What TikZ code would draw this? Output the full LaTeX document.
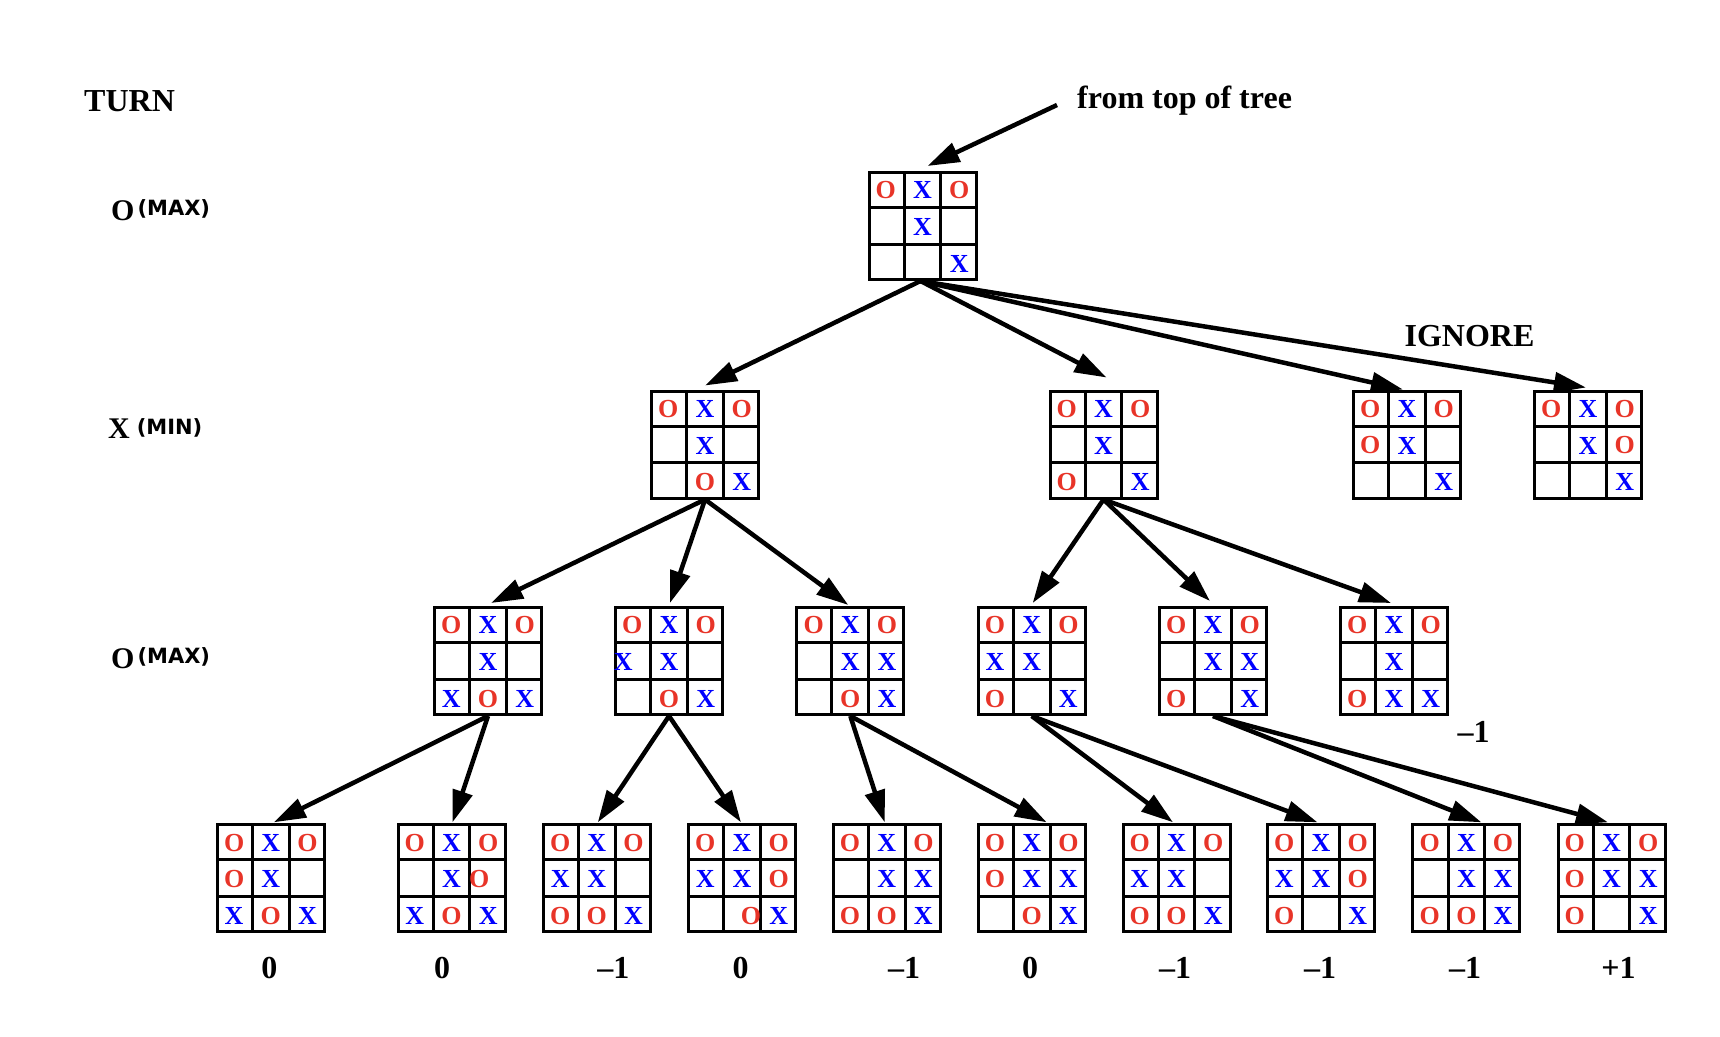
\documentclass[tikz,border=0pt]{standalone}
\usepackage{fontspec}
\setmainfont{Liberation Serif}
\newfontfamily\sansb{DejaVu Sans}
\usetikzlibrary{arrows.meta}
\definecolor{ored}{RGB}{232,52,40}
\definecolor{xblue}{RGB}{0,0,255}
\tikzset{
  board/.style={draw, line width=3pt, minimum size=107pt, inner sep=0pt},
  gridline/.style={line width=3pt},
  move/.style={line width=4.5pt, -{Triangle[length=32pt,width=20pt]}},
  lbl/.style={font=\fontsize{32}{32}\selectfont\bfseries, inner sep=0pt},
  rowlbl/.style={inner sep=0pt, anchor=base west},
  cellfont/.style={inner sep=0pt, font=\fontsize{26}{26}\selectfont\bfseries},
  cellO/.style={cellfont, text=ored, node contents={O}},
  cellX/.style={cellfont, text=xblue, node contents={X}},
  cellQ/.style={cellO, xshift=-9pt},
  cellR/.style={cellO, xshift=9pt},
  cellY/.style={cellX, xshift=-9pt},
}
\newcommand{\tttboard}[4]{%
  \node[board] (#1) at (#2,#3) {};
  \draw[gridline] (#2-18.333,#3-53.5) -- (#2-18.333,#3+53.5)
                  (#2+18.333,#3-53.5) -- (#2+18.333,#3+53.5)
                  (#2-53.5,#3-18.333) -- (#2+53.5,#3-18.333)
                  (#2-53.5,#3+18.333) -- (#2+53.5,#3+18.333);
  \foreach \v [count=\i from 0] in {#4} {%
    \pgfmathtruncatemacro\cc{mod(\i,3)}%
    \pgfmathtruncatemacro\rr{div(\i,3)}%
    \if-\v\else
      \node[name=#1-\i, at={(#2+\cc*36.667-36.667, #3+\rr*36.667-36.667+1)}, cell\v];
    \fi
  }%
}
\begin{document}
\begin{tikzpicture}[x=1pt,y=-1pt]
\path[fill=white] (0,0) rectangle (1720,1036);
\useasboundingbox (0,0) rectangle (1720,1036);

% row labels
\node[lbl, anchor=base west] (turn) at (84,111.5) {TURN};
\node[rowlbl] (row1) at (111,220) {{\fontsize{30}{30}\selectfont\bfseries O}\hspace{3pt}\raisebox{4.5pt}{\sansb\bfseries\fontsize{21}{21}\selectfont (MAX)}};
\node[rowlbl] (row2) at (108,438) {{\fontsize{30}{30}\selectfont\bfseries X}\hspace{7pt}\raisebox{4pt}{\sansb\bfseries\fontsize{21}{21}\selectfont (MIN)}};
\node[rowlbl] (row3) at (111,668) {{\fontsize{30}{30}\selectfont\bfseries O}\hspace{3pt}\raisebox{4.5pt}{\sansb\bfseries\fontsize{21}{21}\selectfont (MAX)}};

% boards
\tttboard{b0}{922.5}{226}{O,X,O,-,X,-,-,-,X}
\tttboard{b11}{705}{444.5}{O,X,O,-,X,-,-,O,X}
\tttboard{b12}{1103.5}{444.5}{O,X,O,-,X,-,O,-,X}
\tttboard{b13}{1407}{444.5}{O,X,O,O,X,-,-,-,X}
\tttboard{b14}{1588}{444.5}{O,X,O,-,X,O,-,-,X}
\tttboard{b21}{488}{661}{O,X,O,-,X,-,X,O,X}
\tttboard{b22}{669}{661}{O,X,O,Y,X,-,-,O,X}
\tttboard{b23}{850.3}{661}{O,X,O,-,X,X,-,O,X}
\tttboard{b24}{1031.7}{661}{O,X,O,X,X,-,O,-,X}
\tttboard{b25}{1213}{661}{O,X,O,-,X,X,O,-,X}
\tttboard{b26}{1394}{661}{O,X,O,-,X,-,O,X,X}
\tttboard{b31}{270.8}{878.3}{O,X,O,O,X,-,X,O,X}
\tttboard{b32}{451.5}{878.3}{O,X,O,-,X,Q,X,O,X}
\tttboard{b33}{596.8}{878.3}{O,X,O,X,X,-,O,O,X}
\tttboard{b34}{742}{878.3}{O,X,O,X,X,O,-,R,X}
\tttboard{b35}{886.7}{878.3}{O,X,O,-,X,X,O,O,X}
\tttboard{b36}{1031.7}{878.3}{O,X,O,O,X,X,-,O,X}
\tttboard{b37}{1176.5}{878.3}{O,X,O,X,X,-,O,O,X}
\tttboard{b38}{1321}{878.3}{O,X,O,X,X,O,O,-,X}
\tttboard{b39}{1466.4}{878.3}{O,X,O,-,X,X,O,O,X}
\tttboard{b310}{1611.5}{878.3}{O,X,O,O,X,X,O,-,X}

% texts
\node[lbl, anchor=base west] (fromtop) at (1077,108) {from top of tree};
\coordinate (fromstart) at (1057,105);
\node[lbl, anchor=base] (ignore) at (1469.5,346) {IGNORE};
\node[lbl, anchor=base] (v26) at (1473.6,742) {--1};
\node[lbl, anchor=base] (v31) at (269.3,978) {0};
\node[lbl, anchor=base] (v32) at (442,978) {0};
\node[lbl, anchor=base] (v33) at (613.4,978) {--1};
\node[lbl, anchor=base] (v34) at (740.6,978) {0};
\node[lbl, anchor=base] (v35) at (904,978) {--1};
\node[lbl, anchor=base] (v36) at (1030,978) {0};
\node[lbl, anchor=base] (v37) at (1175,978) {--1};
\node[lbl, anchor=base] (v38) at (1320,978) {--1};
\node[lbl, anchor=base] (v39) at (1465,978) {--1};
\node[lbl, anchor=base] (v310) at (1618.4,978) {+1};

% arrows
\draw[move] (fromstart) -- ([xshift=5pt,yshift=5pt]b0.north);
\draw[move] ([xshift=-2pt]b0.south) -- ([yshift=4pt]b11.north);
\draw[move] ([xshift=-2pt]b0.south) -- ([xshift=3pt,yshift=12pt]b12.north);
\draw[move] ([xshift=-2pt]b0.south) -- ([xshift=-4pt]b13.north);
\draw[move] ([xshift=-2pt]b0.south) -- ([xshift=-2pt,yshift=2pt]b14.north);
\draw[move] (b11.south) -- ([xshift=3pt,yshift=3pt]b21.north);
\draw[move] (b11.south) -- ([xshift=1pt,yshift=3pt]b22.north);
\draw[move] (b11.south) -- ([xshift=-2pt,yshift=1pt]b23.north);
\draw[move] (b12.south) -- ([xshift=1pt,yshift=3pt]b24.north);
\draw[move] (b12.south) -- ([xshift=-3pt,yshift=5pt]b25.north);
\draw[move] (b12.south) -- ([xshift=-3pt,yshift=3pt]b26.north);
\draw[move] (b21.south) -- ([xshift=3pt,yshift=1pt]b31.north);
\draw[move] (b21.south) -- ([xshift=1pt,yshift=1pt]b32.north);
\draw[move] (b22.south) -- ([xshift=1pt,yshift=1pt]b33.north);
\draw[move] (b22.south) -- ([xshift=-1pt,yshift=1pt]b34.north);
\draw[move] (b23.south) -- ([xshift=-2pt,yshift=1pt]b35.north);
\draw[move] (b23.south) -- ([xshift=15pt,yshift=1pt]b36.north);
\draw[move] (b24.south) -- ([xshift=-3.5pt,yshift=1pt]b37.north);
\draw[move] (b24.south) -- ([xshift=-3.5pt,yshift=1pt]b38.north);
\draw[move] (b25.south) -- ([xshift=15pt,yshift=1pt]b39.north);
\draw[move] (b25.south) -- ([xshift=-3.5pt,yshift=1pt]b310.north);
\end{tikzpicture}
\end{document}
